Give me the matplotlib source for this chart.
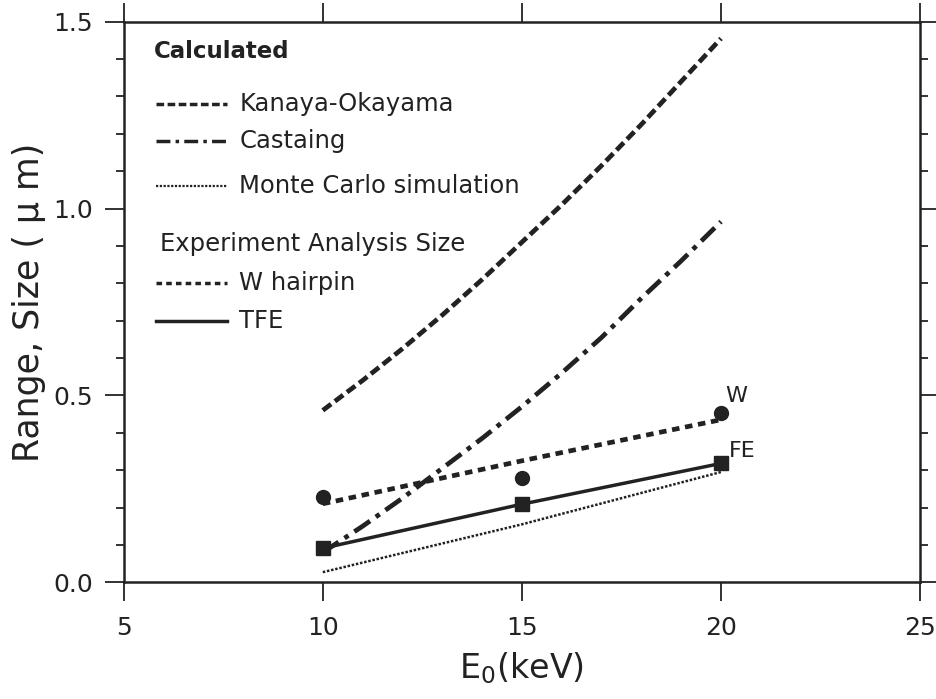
import matplotlib.pyplot as plt
from matplotlib.ticker import MultipleLocator

plt.rcParams['font.family'] = ['DejaVu Sans']
plt.rcParams['mathtext.default'] = 'regular'

# calculated curves
e_calc = [10, 11, 12, 13, 14, 15, 16, 17, 18, 19, 20]
kanaya = [0.46, 0.54, 0.625, 0.715, 0.81, 0.91, 1.01, 1.115, 1.225, 1.34, 1.455]
castaing = [0.08, 0.15, 0.225, 0.305, 0.385, 0.47, 0.56, 0.655, 0.76, 0.86, 0.965]
e_mc = [10, 15, 20]
monte_carlo = [0.027, 0.155, 0.295]

# experiment
e_exp = [10, 15, 20]
w_points = [0.228, 0.279, 0.453]
w_fit = [0.21, 0.325, 0.435]
tfe_points = [0.091, 0.209, 0.318]

ink = '#222222'

fig = plt.figure(figsize=(9.37, 6.99), dpi=100)
ax = fig.add_axes([0.132, 0.167, 0.850, 0.802])

ax.plot(e_calc, kanaya, color=ink, lw=3.4, ls=(0, (2.2, 1.0)))
ax.plot(e_calc, castaing, color=ink, lw=3.4, ls=(0, (4, 1.5, 1, 1.5)))
ax.plot(e_mc, monte_carlo, color=ink, lw=1.8, ls=(0, (1, 0.7)))
ax.plot(e_exp, w_fit, color=ink, lw=3.4, ls=(0, (1.6, 1.2)))
ax.plot(e_exp, w_points, 'o', color=ink, ms=10)
ax.plot(e_exp, tfe_points, '-s', color=ink, lw=2.5, ms=10)

ax.text(20.1, 0.483, 'W', fontsize=16, color=ink)
ax.text(20.2, 0.335, 'FE', fontsize=16, color=ink)

# hand-made legend
lx0, lx1, tx = 5.8, 7.6, 7.9
ax.text(5.75, 1.42, 'Calculated', fontsize=16.5, fontweight='bold', color=ink, va='center')
legend_rows = [
    (1.28, 'Kanaya-Okayama', dict(lw=2.5, ls=(0, (2.2, 1.0)))),
    (1.18, 'Castaing', dict(lw=2.5, ls=(0, (4, 1.5, 1, 1.5)))),
    (1.06, 'Monte Carlo simulation', dict(lw=1.6, ls=(0, (1, 0.7)))),
    (0.80, 'W hairpin', dict(lw=2.5, ls=(0, (1.6, 1.2)))),
    (0.70, 'TFE', dict(lw=2.5, ls='-')),
]
for y, label, style in legend_rows:
    ax.plot([lx0, lx1], [y, y], color=ink, **style)
    ax.text(tx, y, label, fontsize=17.5, color=ink, va='center')
ax.text(5.9, 0.905, 'Experiment Analysis Size', fontsize=17.5, color=ink, va='center')

ax.set_xlim(5, 25)
ax.set_ylim(0, 1.5)
ax.xaxis.set_major_locator(MultipleLocator(5))
ax.yaxis.set_major_locator(MultipleLocator(0.5))
ax.yaxis.set_minor_locator(MultipleLocator(0.1))
ax.yaxis.set_major_formatter(plt.FormatStrFormatter('%.1f'))
ax.tick_params(which='both', direction='out', top=True, right=True,
               labelsize=18, colors=ink, width=1.3)
ax.tick_params(which='major', length=14)
ax.tick_params(which='minor', length=6)
ax.tick_params(axis='x', which='major', pad=10)
ax.tick_params(axis='y', which='major', pad=8)
for s in ax.spines.values():
    s.set_linewidth(1.8)
    s.set_color(ink)

ax.set_xlabel('E$_0$(keV)', fontsize=24, color=ink, labelpad=8)
ax.set_ylabel('Range, Size ( μ m)', fontsize=25, color=ink, labelpad=5)

fig.savefig('out.png', dpi=100)
